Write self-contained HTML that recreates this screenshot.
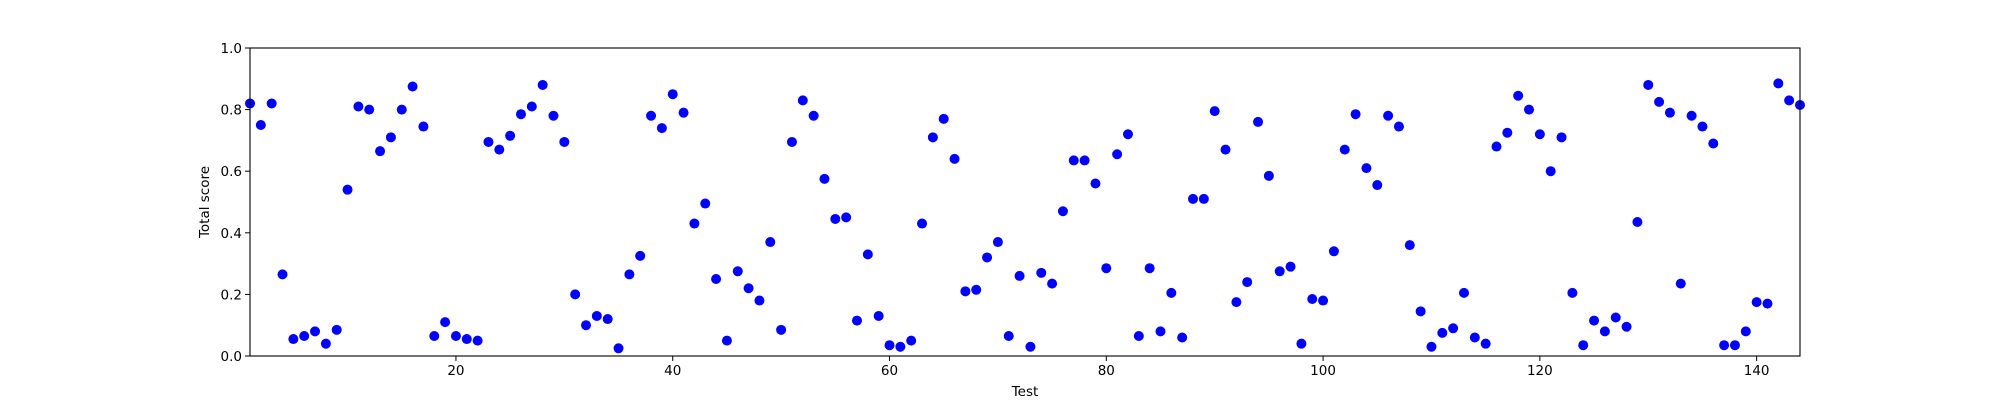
<!DOCTYPE html>
<html><head><meta charset="utf-8"><style>
body{margin:0;background:#fff;}
svg{display:block;font-family:"DejaVu Sans","Liberation Sans",sans-serif;}
</style></head><body>
<svg id="chart" width="2000" height="400" viewBox="0 0 2000 400" xmlns="http://www.w3.org/2000/svg">
<rect width="2000" height="400" fill="#fff"/>
<g id="points"></g>
<g id="axes"></g>
</svg>
<script>
const scores = [0.82,0.75,0.82,0.265,0.055,0.065,0.08,0.04,0.085,0.54,
0.81,0.80,0.665,0.71,0.80,0.875,0.745,0.065,0.11,0.065,
0.055,0.05,0.695,0.67,0.715,0.785,0.81,0.88,0.78,0.695,
0.20,0.10,0.13,0.12,0.025,0.265,0.325,0.78,0.74,0.85,
0.79,0.43,0.495,0.25,0.05,0.275,0.22,0.18,0.37,0.085,
0.695,0.83,0.78,0.575,0.445,0.45,0.115,0.33,0.13,0.035,
0.03,0.05,0.43,0.71,0.77,0.64,0.21,0.215,0.32,0.37,
0.065,0.26,0.03,0.27,0.235,0.47,0.635,0.635,0.56,0.285,
0.655,0.72,0.065,0.285,0.08,0.205,0.06,0.51,0.51,0.795,
0.67,0.175,0.24,0.76,0.585,0.275,0.29,0.04,0.185,0.18,
0.34,0.67,0.785,0.61,0.555,0.78,0.745,0.36,0.145,0.03,
0.075,0.09,0.205,0.06,0.04,0.68,0.725,0.845,0.80,0.72,
0.60,0.71,0.205,0.035,0.115,0.08,0.125,0.095,0.435,0.88,
0.825,0.79,0.235,0.78,0.745,0.69,0.035,0.035,0.08,0.175,
0.17,0.885,0.83,0.815];
const tests = scores.map((_, i) => i + 1);
const xTicks = [20,40,60,80,100,120,140];
const yTicks = [0.0,0.2,0.4,0.6,0.8,1.0];
const yTickLabels = ["0.0","0.2","0.4","0.6","0.8","1.0"];

const L=250,R=1800,T=48,B=356;
const xMin=1,xMax=144,yMin=0,yMax=1;
function sx(v){return L+(v-xMin)/(xMax-xMin)*(R-L);}
function sy(v){return B-(v-yMin)/(yMax-yMin)*(B-T);}
const NS="http://www.w3.org/2000/svg";
function mk(tag,attrs,parent,text){const e=document.createElementNS(NS,tag);for(const k in attrs)e.setAttribute(k,attrs[k]);if(text!==undefined)e.textContent=text;parent.appendChild(e);return e;}

const pg=document.getElementById('points');
const clip=mk('clipPath',{id:'clip'},document.getElementById('chart'));
mk('rect',{x:L-6,y:T,width:R-L+12,height:B-T},clip);
pg.setAttribute('clip-path','url(#clip)');
tests.forEach((t,i)=>{
  const c=mk('circle',{cx:sx(t),cy:sy(scores[i]),r:5,fill:'#0000ff'},pg);
  
  
});

const ax=document.getElementById('axes');
const frame=mk('rect',{x:L,y:T,width:R-L,height:B-T,fill:'none',stroke:'#000','stroke-width':1.1},ax);


xTicks.forEach(v=>{
  const x=sx(v);
  const tk=mk('line',{x1:x,x2:x,y1:B,y2:B+5,stroke:'#000','stroke-width':1},ax);
  
  
  const lb=mk('text',{x:x,y:B+19,'font-size':13.5,'text-anchor':'middle',fill:'#000'},ax,String(v));
  
  
});
yTicks.forEach((v,i)=>{
  const y=sy(v);
  const tk=mk('line',{x1:L-5,x2:L,y1:y,y2:y,stroke:'#000','stroke-width':1},ax);
  
  
  const lb=mk('text',{x:L-8,y:y+5,'font-size':13.5,'text-anchor':'end',fill:'#000'},ax,yTickLabels[i]);
  
  
});
const xt=mk('text',{x:(L+R)/2,y:396,'font-size':13.5,'text-anchor':'middle',fill:'#000'},ax,'Test');


const yt=mk('text',{x:0,y:0,'font-size':13.5,'text-anchor':'middle',fill:'#000',transform:'translate(209,'+((T+B)/2)+') rotate(-90)'},ax,'Total score');


</script>
</body></html>
